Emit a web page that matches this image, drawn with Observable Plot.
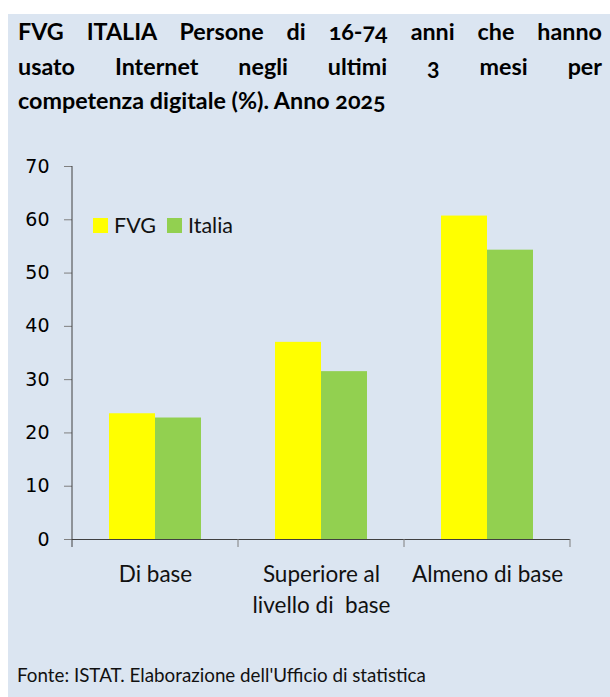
<!DOCTYPE html>
<html>
<head>
<meta charset="utf-8">
<script src="https://cdn.jsdelivr.net/npm/d3@7"></script>
<script src="https://cdn.jsdelivr.net/npm/@observablehq/plot@0.6"></script>
<style>
  html, body { margin: 0; padding: 0; background: #ffffff; }
  #panel { position: absolute; left: 8px; top: 14px; width: 602px; height: 683px; background: #dbe5f1; overflow: hidden; }
  #title { position: absolute; left: 10px; right: 8px; top: 0px; font-family: Lato, sans-serif; font-weight: 700; font-size: 23.3px; line-height: 34.5px; color: #000; font-variant-numeric: oldstyle-nums; }
  #title .j { text-align: justify; text-align-last: justify; }
  #chart { position: absolute; left: 0; top: 136px; }
  #legend { position: absolute; left: 85px; top: 198px; font-family: Lato, sans-serif; font-size: 21.5px; color: #111; display: flex; align-items: center; }
  #legend .sw { width: 15px; height: 15px; display: inline-block; margin-right: 6px; }
  #legend .item { display: flex; align-items: center; margin-right: 11px; }
  #footer { position: absolute; left: 9px; top: 650px; font-family: Lato, sans-serif; font-size: 18.8px; line-height: 22px; color: #111; }
</style>
</head>
<body>
<div id="panel">
  <div id="title"></div>
  <div id="chart"></div>
  <div id="legend"></div>
  <div id="footer"></div>
</div>
<script>
const titleLines = [
  "FVG ITALIA Persone di 16-74 anni che hanno",
  "usato Internet negli ultimi 3 mesi per",
  "competenza digitale (%). Anno 2025"
];
const footerText = "Fonte: ISTAT. Elaborazione dell'Ufficio di statistica";
const categories = ["Di base", "Superiore al\nlivello di\u00a0 base", "Almeno di base"];
const series = ["FVG", "Italia"];
const colors = ["#ffff00", "#92d050"];
const fvgValues = [23.6, 37.0, 60.7];
const italiaValues = [22.8, 31.5, 54.3];
const yTicks = [0, 10, 20, 30, 40, 50, 60, 70];

// Title
const titleEl = document.getElementById("title");
titleLines.forEach((t, i) => {
  const d = document.createElement("div");
  d.textContent = t;
  if (i < titleLines.length - 1) d.className = "j";
  titleEl.appendChild(d);
});
document.getElementById("footer").textContent = footerText;

// Legend
const legendEl = document.getElementById("legend");
series.forEach((s, i) => {
  const it = document.createElement("div");
  it.className = "item";
  const sw = document.createElement("span");
  sw.className = "sw";
  sw.style.background = colors[i];
  const lab = document.createElement("span");
  lab.textContent = s;
  it.appendChild(sw); it.appendChild(lab);
  legendEl.appendChild(it);
});

const data = categories.flatMap((c, i) => [
  {cat: c, series: series[0], value: fvgValues[i]},
  {cat: c, series: series[1], value: italiaValues[i]}
]);

const plot = Plot.plot({
  width: 602,
  height: 489,
  marginLeft: 63,
  marginRight: 40,
  marginTop: 16,
  marginBottom: 100,
  style: {background: "transparent", color: "#000", fontFamily: "Lato, sans-serif"},
  fx: {domain: categories, padding: 0, label: null},
  x: {domain: series, paddingInner: 0, paddingOuter: 0.77, axis: null},
  y: {domain: [0, 70], axis: null},
  color: {domain: series, range: colors},
  marks: [
    Plot.barY(data, {fx: "cat", x: "series", y: "value", fill: "series"}),
    Plot.axisY({ticks: yTicks, tickSize: 8, tickPadding: 15, stroke: "#7f7f7f", fill: "#000", fontSize: 19, fontFamily: "DejaVu Sans", label: null, tickFormat: d => String(d)}),
    Plot.axisFx({anchor: "bottom", tickSize: 0, tickPadding: 20, fontSize: 22.5, lineHeight: 1.4, fill: "#111", label: null}),
    Plot.ruleY([0], {stroke: "#404040", strokeWidth: 1})
  ]
});
document.getElementById("chart").appendChild(plot);

// axis lines and band-boundary ticks, from the library's scales
const fx = plot.scale("fx");
const y = plot.scale("y");
const svg = d3.select(plot);
const y0 = y.apply(0), y70 = y.apply(70);
const edges = categories.map(c => fx.apply(c));
edges.push(fx.apply(categories[categories.length - 1]) + fx.bandwidth);
const g = svg.append("g").attr("stroke", "#404040").attr("stroke-width", 1);
g.append("line").attr("x1", edges[0]).attr("x2", edges[0]).attr("y1", y70).attr("y2", y0 + 8);
edges.slice(1).forEach(e => {
  g.append("line").attr("x1", e).attr("x2", e).attr("y1", y0).attr("y2", y0 + 8).attr("stroke", "#7f7f7f");
});
</script>
</body>
</html>
